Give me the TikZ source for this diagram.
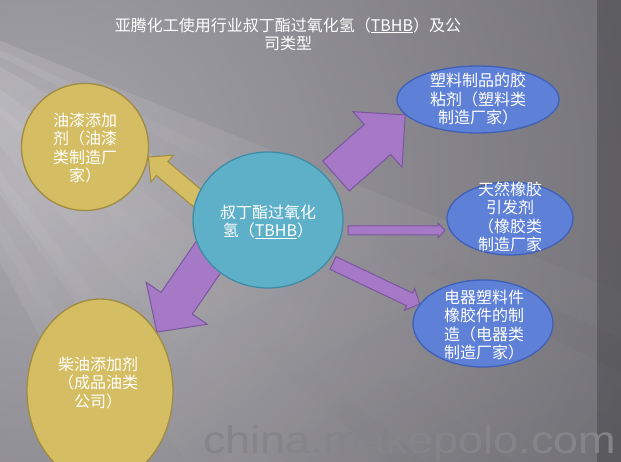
\documentclass[tikz,border=0pt]{standalone}
\usepackage{fontspec}
\setmainfont{Noto Sans CJK SC}
\newfontfamily\wmfont[FakeStretch=1.17]{Liberation Sans}
\usetikzlibrary{shapes.geometric,calc}

\pgfdeclarelayer{bg}
\pgfdeclarelayer{back}
\pgfsetlayers{bg,back,main}

\definecolor{bgbase}{HTML}{5D5C61}
\definecolor{bglight}{HTML}{A8A6AD}
\definecolor{tealfill}{HTML}{5EB0C9}
\definecolor{tealline}{HTML}{3F8CA6}
\definecolor{goldfill}{HTML}{D4BD63}
\definecolor{goldline}{HTML}{A08B40}
\definecolor{bluefill}{HTML}{5E80D6}
\definecolor{blueline}{HTML}{4060B8}
\definecolor{violetfill}{HTML}{A679C6}
\definecolor{violetline}{HTML}{7C55A0}
\definecolor{wmgray}{HTML}{858489}

\tikzset{
  bubble/.style={ellipse, line width=1.3pt, inner sep=0pt},
  hub/.style={bubble, draw=tealline, fill=tealfill},
  gold/.style={bubble, draw=goldline, fill=goldfill},
  user/.style={bubble, draw=blueline, fill=bluefill},
  txt/.style={text=white, inner sep=0pt, align=center,
    font=\fontsize{16}{18.5}\selectfont},
  heading/.style={txt, font=\fontsize{16}{18}\selectfont},
  feed/.style={draw=violetline, fill=violetfill, line width=1pt},
  feedgold/.style={draw=goldline, fill=goldfill, line width=1pt},
  watermark/.style={text=wmgray, inner sep=0pt, anchor=base west,
    font=\wmfont\fontsize{38.5}{38.5}\selectfont}
}

% block arrow #2 -> #3: shaft half width #4, head half width #5, head length #6
\newcommand\blockarrow[6]{%
  \coordinate (ba-base) at ($(#3)!#6!(#2)$);
  \draw[#1] ($(#2)!#4!90:(#3)$) -- ($(ba-base)!#4!90:(#3)$)
    -- ($(ba-base)!#5!90:(#3)$) -- (#3)
    -- ($(ba-base)!#5!-90:(#3)$) -- ($(ba-base)!#4!-90:(#3)$)
    -- ($(#2)!#4!-90:(#3)$) -- cycle;}

\begin{document}
\begin{tikzpicture}[x=1pt,y=1pt]
\useasboundingbox (0,0) rectangle (621,-462);

\node[heading] (title) at (288,-34)
  {亚腾化工使用行业叔丁酯过氧化氢（\underline{TBHB}）及公\\司类型};

\node[hub,  minimum width=150pt, minimum height=136pt] (tbhb)     at (268,-220)   {};
\node[gold, minimum width=127pt, minimum height=127pt] (paint)    at ( 85,-147)   {};
\node[gold, minimum width=146pt, minimum height=184pt] (diesel)   at (100,-391)   {};
\node[user, minimum width=162pt, minimum height=67pt]  (glue)     at (478,-99.5)  {};
\node[user, minimum width=126pt, minimum height=73pt]  (rubber)   at (510,-218.5) {};
\node[user, minimum width=140pt, minimum height=87pt]  (electric) at (483,-323.5) {};

\node[txt] (tbhb-text)   at (268,-222)  {叔丁酯过氧化\\氢（\underline{TBHB}）};
\node[txt] (paint-text)  at ( 85,-148)  {油漆添加\\剂（油漆\\类制造厂\\家）};
\node[txt] (diesel-text) at ( 98,-383)  {柴油添加剂\\（成品油类\\公司）};
\node[txt] (glue-text)   at (478,-99.5) {塑料制品的胶\\粘剂（塑料类\\制造厂家）};
\node[txt] (rubber-text) at (510,-217)  {天然橡胶\\引发剂\\（橡胶类\\制造厂家};
\node[txt, align=left] (electric-text) at (484,-325)
  {电器塑料件\\橡胶件的制\\造（电器类\\制造厂家）};

\node[watermark] (site) at (203,-453) {china.makepolo.com};

\begin{pgfonlayer}{back}
\coordinate (paint-tail)    at (209,-208);
\coordinate (glue-tail)     at (336,-176);
\coordinate (rubber-tail)   at (348,-230.5);
\coordinate (rubber-tip)    at (445,-230.5);
\coordinate (electric-tail) at (333,-263);
\coordinate (diesel-tail)   at (214,-249);
\blockarrow{feedgold}{paint-tail}{paint.351}{9pt}{17.5pt}{18pt}
\blockarrow{feed}{glue-tail}{glue.192}{20pt}{37pt}{37pt}
\blockarrow{feed}{rubber-tail}{rubber-tip}{4.5pt}{7.5pt}{7pt}
\blockarrow{feed}{electric-tail}{electric.163}{7pt}{12pt}{11pt}
\blockarrow{feed}{diesel-tail}{diesel.46}{19pt}{37pt}{35pt}
\end{pgfonlayer}

\begin{pgfonlayer}{bg}
\begin{scope}
\clip (0,0) rectangle (621,-462);
\fill[bgbase] (0,0) rectangle (621,-462);
\shade[inner color=bglight, outer color=bgbase] (30,-190) circle (900);
\coordinate (ray) at (-150,20);
\foreach \from/\to/\op in {-22/-62/.12, -30/-55/.10, -36/-48/.09, -25/-27/.09,
                           -52/-54/.10, -58/-60/.09, -40/-42/.08}
  \shade[opacity=\op, top color=white, bottom color=bgbase, shading angle=40]
    (ray) -- +(\from:900) -- +(\to:900) -- cycle;
\fill[black, opacity=.2] (597,0) rectangle (621,-462);
\end{scope}
\end{pgfonlayer}
\end{tikzpicture}
\end{document}
